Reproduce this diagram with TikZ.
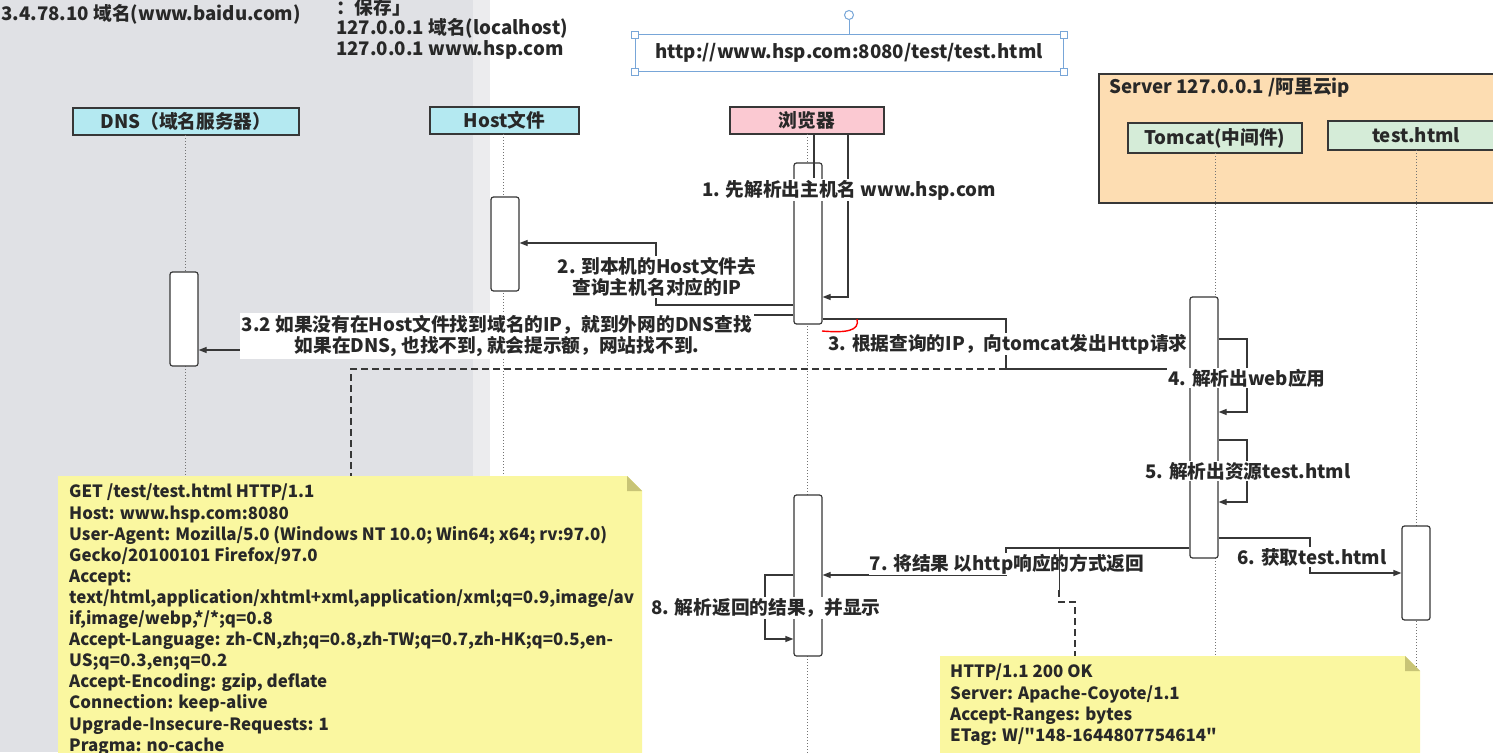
\documentclass[tikz,border=0pt]{standalone}
\usepackage{fontspec}
\setmainfont{Noto Sans CJK SC}[Ligatures=TeXOff]
\usetikzlibrary{arrows.meta}
\definecolor{bggray}{RGB}{224,225,229}
\definecolor{bglight}{RGB}{236,236,238}
\definecolor{ln}{RGB}{55,55,55}
\definecolor{txt}{RGB}{40,40,40}
\definecolor{aqua}{RGB}{180,233,241}
\definecolor{pinkh}{RGB}{251,201,210}
\definecolor{peach}{RGB}{253,221,178}
\definecolor{mint}{RGB}{213,236,216}
\definecolor{notey}{RGB}{250,247,160}
\definecolor{notefold}{RGB}{200,196,118}
\definecolor{urlblue}{RGB}{120,166,216}
\tikzset{
  lbl/.style={font=\fontsize{18.7}{21}\selectfont\bfseries, text=txt, inner sep=1pt},
  msglbl/.style={lbl, fill=white, align=center},
  head/.style={draw=ln, line width=1.2pt, lbl, minimum height=27pt},
  act/.style={draw=ln, fill=white, line width=1.2pt, rounded corners=2.5pt, minimum width=28pt, inner sep=0pt},
  life/.style={draw=ln!70, line width=1pt, dotted},
  msg/.style={draw=ln, line width=1.2pt},
  arr/.style={msg, -{Triangle[length=8pt,width=6pt]}},
  dsh/.style={draw=ln, line width=1.4pt, dash pattern=on 7pt off 4pt},
  notetxt/.style={font=\fontsize{16.9}{21.1}\selectfont\bfseries, text=txt, align=left, inner sep=0pt, anchor=north west},
  handle/.style={draw=urlblue, fill=white, line width=0.8pt, minimum size=7pt, inner sep=0pt},
}
\begin{document}
\begin{tikzpicture}[x=1pt,y=-1pt]
\useasboundingbox (0,0) rectangle (1493,752);
\clip (0,0) rectangle (1493,752);
\fill[white] (0,0) rectangle (1493,752);
\fill[bggray] (0,0) rectangle (473,752);
\fill[bglight] (473,0) rectangle (490,752);

% top texts
\node[lbl, anchor=west] (t1) at (0,14) {3.4.78.10 域名(www.baidu.com)};
\node[lbl, anchor=west] (t2) at (335,7) {：保存」};
\node[lbl, anchor=west] (t3) at (335,28) {127.0.0.1 域名(localhost)};
\node[lbl, anchor=west] (t4) at (335,50) {127.0.0.1 www.hsp.com};

% url box
\node[draw=urlblue, line width=1pt, lbl, minimum width=428pt, minimum height=36pt] (url) at (849,53) {http://www.hsp.com:8080/test/test.html};
\node[draw=urlblue, fill=white, circle, line width=1pt, minimum size=9pt, inner sep=0pt] (rot) at (849,15) {};
\draw[urlblue, line width=1pt] (rot) -- (url.north);
\foreach \c in {north west, north east, south west, south east}
  \node[handle] at (url.\c) {};

% server frame
\node[draw=ln, fill=peach, line width=1.2pt, minimum width=402pt, minimum height=129pt, inner sep=0pt] (srv) at (1300,138.5) {};
\node[lbl, anchor=west] (srvt) at (1108,88) {Server 127.0.0.1 /阿里云ip};

% heads
\node[head, fill=aqua, minimum width=226pt] (dns) at (186,121.5) {DNS（域名服务器）};
\node[head, fill=aqua, minimum width=149pt] (host) at (504.5,120.5) {Host文件};
\node[head, fill=pinkh, minimum width=154pt] (br) at (807,120.5) {浏览器};
\node[head, fill=mint, minimum width=174pt, minimum height=30pt] (tc) at (1215,138) {Tomcat(中间件)};
\node[head, fill=mint, minimum width=176pt, minimum height=29pt] (th) at (1416,135.5) {test.html};

% lifelines
\coordinate (dnsE) at (185,760);
\coordinate (hostE) at (503,760);
\coordinate (brE) at (807,760);
\coordinate (tcE) at (1215,760);
\coordinate (thE) at (1416,760);
\draw[life] (185,135) -- (dnsE);
\draw[life] (503,134) -- (hostE);
\draw[life] (807,134) -- (brE);
\draw[life] (1215,153) -- (tcE);
\draw[life] (1416,150) -- (thE);

% activations
\node[act, minimum height=94pt] (hostA) at (505,244) {};
\node[act, minimum height=94pt] (dnsA) at (184,319) {};
\node[act, minimum height=161pt] (brA) at (808,243.5) {};
\node[act, minimum height=261pt] (tcA) at (1204,427.5) {};
\node[act, minimum height=161pt] (brB) at (808,575.5) {};
\node[act, minimum height=94pt] (thA) at (1416,573) {};

% 1. self message
\draw[msg] (814,134) -- (814,178);
\draw[arr] (848,134) -- (848,297) -- (brA.east |- 0,297);
\node[msglbl] (m1) at (849,190) {1. 先解析出主机名 www.hsp.com};

% 2. to host file
\draw[arr] (brA.west |- 0,305) -- (656,305) -- (656,243) -- (hostA.east |- 0,243);
\node[msglbl, align=center] (m2) at (657,277) {2. 到本机的Host文件去\\查询主机名对应的IP};

% 3.2 to DNS
\draw[arr] (brA.west |- 0,315) -- (745,315) -- (745,350) -- (dnsA.east |- 0,350);
\node[msglbl, inner sep=2pt, align=center] (m32) at (497,336) {3.2 如果没有在Host文件找到域名的IP，就到外网的DNS查找\\如果在DNS, 也找不到, 就会提示额，网站找不到.};

% 3. to tomcat
\coordinate (k3) at (1006,369);
\draw[msg] (brA.east |- 0,319) -- (1006,319) -- (k3) -- (tcA.west |- 0,369);
\node[msglbl] (m3) at (1008,344) {3. 根据查询的IP，向tomcat发出Http请求};
\draw[red, line width=1.4pt] (822,331) .. controls (846,333) and (860,331) .. (857,319);

% dashed anchor of request note
\coordinate (n1a) at (351,477);
\draw[dsh] (k3) -- (351,369) -- (n1a);

% 4. self
\draw[arr] (tcA.east |- 0,339) -- (1247,339) -- (1247,412) -- (tcA.east |- 0,412);
\node[msglbl] (m4) at (1247,378) {4. 解析出web应用};

% 5. self
\draw[arr] (tcA.east |- 0,440) -- (1247,440) -- (1247,502) -- (tcA.east |- 0,502);
\node[msglbl] (m5) at (1248,471) {5. 解析出资源test.html};

% 6. to test.html
\draw[arr] (tcA.east |- 0,538) -- (1310,538) -- (1310,573) -- (thA.west |- 0,573);
\node[msglbl] (m6) at (1312,557) {6. 获取test.html};

% 7. response
\draw[arr] (tcA.west |- 0,548) -- (1006,548) -- (1006,575) -- (brB.east |- 0,575);
\node[msglbl] (m7) at (1007,564) {7. 将结果 以http响应的方式返回};
\draw[msg, line width=0.9pt] (1059,548) -- (1059,590);
\coordinate (n2a) at (1075,657);
\draw[dsh] (1059,590) -- (1059,602) -- (1075,602) -- (n2a);

% 8. self
\draw[arr] (brB.west |- 0,575) -- (765,575) -- (765,639) -- (brB.west |- 0,639);
\node[msglbl] (m8) at (766,608) {8. 解析返回的结果，并显示};

% request note
\fill[notey] (58,476) -- (627,476) -- (642,491) -- (642,760) -- (58,760) -- cycle;
\fill[notefold] (627,476) -- (627,491) -- (642,491) -- cycle;
\node[notetxt] (req) at (69,484) {GET /test/test.html HTTP/1.1\\
Host: www.hsp.com:8080\\
User-Agent: Mozilla/5.0 (Windows NT 10.0; Win64; x64; rv:97.0)\\
Gecko/20100101 Firefox/97.0\\
Accept:\\
text/html,application/xhtml+xml,application/xml;q=0.9,image/av\\
if,image/webp,*/*;q=0.8\\
Accept-Language: zh-CN,zh;q=0.8,zh-TW;q=0.7,zh-HK;q=0.5,en-\\
US;q=0.3,en;q=0.2\\
Accept-Encoding: gzip, deflate\\
Connection: keep-alive\\
Upgrade-Insecure-Requests: 1\\
Pragma: no-cache};

% response note
\fill[notey] (940,656) -- (1405,656) -- (1420,671) -- (1420,760) -- (940,760) -- cycle;
\fill[notefold] (1405,656) -- (1405,671) -- (1420,671) -- cycle;
\node[notetxt] (resp) at (950,664) {HTTP/1.1 200 OK\\
Server: Apache-Coyote/1.1\\
Accept-Ranges: bytes\\
ETag: W/"148-1644807754614"};
\end{tikzpicture}
\end{document}
